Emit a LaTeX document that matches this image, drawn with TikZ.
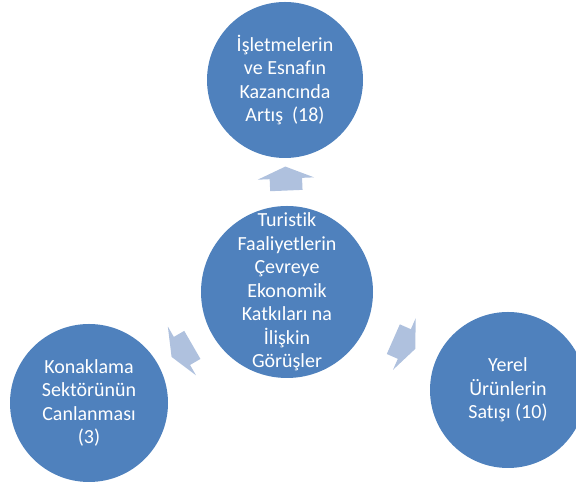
\documentclass[tikz,border=0pt]{standalone}
\usepackage{fontspec}
\setmainfont{Carlito}[Ligatures=NoCommon]
\usetikzlibrary{shapes.arrows}
\definecolor{daireblue}{HTML}{4F81BD}
\definecolor{okblue}{HTML}{AFC1DE}
\begin{document}
\begin{tikzpicture}[x=1pt, y=1pt,
  bubble/.style = {circle, fill=daireblue, minimum size=#1, inner sep=0pt, outer sep=0pt},
  yazi/.style = {text=white, align=center, inner sep=0pt, font=\fontsize{20}{23.5}\selectfont},
  blok/.style = {single arrow, fill=okblue, draw=none, minimum height=24pt, minimum width=56pt,
    single arrow head extend=12pt, single arrow tip angle=134, inner xsep=0pt, inner ysep=16pt,
    sloped, allow upside down}]
\useasboundingbox (0,0) rectangle (576,486);
\node[bubble=172, label={[yazi]center:{Turistik\\Faaliyetlerin\\Çevreye\\Ekonomik\\Katkıları na\\İlişkin\\Görüşler}}] (gorus) at (287,194) {};
\node[bubble=156, label={[yazi]center:{İşletmelerin\\ve Esnafın\\Kazancında\\Artış~~(18)}}] (kazanc) at (285,406) {};
\node[bubble=158, label={[yazi]center:{Konaklama\\Sektörünün\\Canlanması\\(3)}}] (konak) at (89,83) {};
\node[bubble=156, label={[yazi]center:{Yerel\\Ürünlerin\\Satışı (10)}}] (yerel) at (508,96) {};
% arrows out of the hub
\path (gorus.90) -- node[blok]{} (kazanc.-90);
\path (gorus.209) -- node[blok]{} (konak.29);
\path (gorus.-24) -- node[blok]{} (yerel.156);
\end{tikzpicture}
\end{document}
